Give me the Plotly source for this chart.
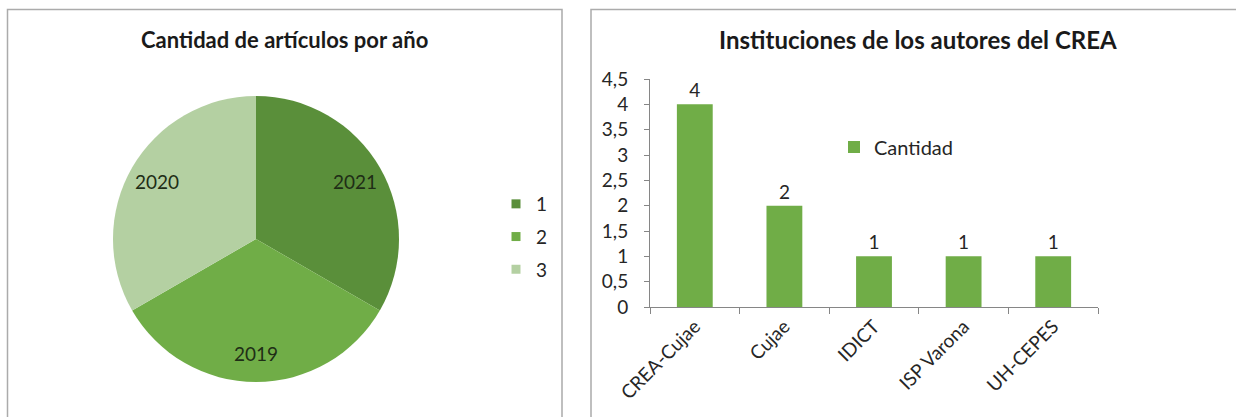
import plotly.graph_objects as go

# ---- data ----
pie_labels = ["1", "2", "3"]
pie_years = ["2021", "2019", "2020"]
pie_values = [1, 1, 1]
pie_colors = ["#5a8f3a", "#70ad47", "#b4d0a2"]

bar_categories = ["CREA-Cujae", "Cujae", "IDICT", "ISP Varona", "UH-CEPES"]
bar_values = [4, 2, 1, 1, 1]
bar_name = "Cantidad"
bar_color = "#70ad47"

title_left = "Cantidad de artículos por año"
title_right = "Instituciones de los autores del CREA"

W, H = 1236, 417
FONT = "Lato"
AXIS_COLOR = "#868686"
TEXT_COLOR = "#262626"

def px_x(x):
    return x / W

def px_y(y):
    return (H - y) / H

fig = go.Figure()

# Pie chart (filled slices)
cx, cy, r = 256, 239, 143
pie_domain = dict(x=[px_x(cx - r), px_x(cx + r)], y=[px_y(cy + r), px_y(cy - r)])
fig.add_trace(go.Pie(
    labels=pie_labels,
    values=pie_values,
    textinfo="none",
    marker=dict(colors=pie_colors, line=dict(width=0)),
    sort=False,
    direction="clockwise",
    rotation=0,
    showlegend=False,
    hoverinfo="label+value",
    domain=pie_domain,
))
# Same pie as a transparent ring, so the year labels sit near the rim
fig.add_trace(go.Pie(
    labels=pie_labels,
    values=pie_values,
    text=pie_years,
    textinfo="text",
    textposition="inside",
    insidetextorientation="horizontal",
    textfont=dict(family=FONT, size=19, color="#1f2d16"),
    hole=0.6,
    marker=dict(colors=["rgba(0,0,0,0)"] * len(pie_labels), line=dict(width=0)),
    sort=False,
    direction="clockwise",
    rotation=0,
    showlegend=False,
    hoverinfo="skip",
    domain=pie_domain,
))

# Legend entries for the pie (one per slice)
for lab, col in zip(pie_labels, pie_colors):
    fig.add_trace(go.Scatter(
        x=[None], y=[None], mode="markers", name=lab,
        marker=dict(symbol="square", size=9, color=col),
        legend="legend", legendgroup=lab, showlegend=True,
        hoverinfo="skip",
    ))

# Bar chart
fig.add_trace(go.Bar(
    x=bar_categories,
    y=bar_values,
    name=bar_name,
    marker=dict(color=bar_color, line=dict(width=0)),
    text=bar_values,
    texttemplate="%{y}",
    textposition="outside",
    textfont=dict(family=FONT, size=19, color=TEXT_COLOR),
    cliponaxis=False,
    showlegend=True,
    legend="legend2",
))

fig.update_layout(
    width=W, height=H,
    margin=dict(l=0, r=0, t=0, b=0, pad=0, autoexpand=False),
    paper_bgcolor="white",
    plot_bgcolor="white",
    separators=",.",
    font=dict(family=FONT, size=18, color=TEXT_COLOR),
    bargap=0.6,
    xaxis=dict(
        domain=[px_x(650), px_x(1098)],
        type="category",
        tickangle=-45,
        showline=True, linecolor=AXIS_COLOR, linewidth=1,
        ticks="outside", tickcolor=AXIS_COLOR, ticklen=6,
        tickson="boundaries",
        showgrid=False, zeroline=False,
        tickfont=dict(family=FONT, size=19, color=TEXT_COLOR),
        automargin=False,
        fixedrange=True,
    ),
    yaxis=dict(
        domain=[px_y(307), px_y(79)],
        range=[0, 4.5],
        dtick=0.5, tick0=0,
        showline=True, linecolor=AXIS_COLOR, linewidth=1,
        ticks="outside", tickcolor=AXIS_COLOR, ticklen=5,
        ticklabelstandoff=12,
        showgrid=False, zeroline=False,
        tickfont=dict(family=FONT, size=19, color=TEXT_COLOR),
        automargin=False,
        fixedrange=True,
    ),
    legend=dict(
        x=px_x(496), y=px_y(185), xanchor="left", yanchor="top",
        font=dict(family=FONT, size=19, color=TEXT_COLOR),
        tracegroupgap=5, bgcolor="rgba(0,0,0,0)",
        itemwidth=30,
    ),
    legend2=dict(
        x=px_x(834), y=px_y(147), xanchor="left", yanchor="middle",
        font=dict(family=FONT, size=20, color=TEXT_COLOR),
        bgcolor="rgba(0,0,0,0)",
        itemwidth=30,
    ),
    annotations=[
        dict(text="<b>" + title_left + "</b>", xref="paper", yref="paper",
             x=px_x(284), y=px_y(40), xanchor="center", yanchor="middle",
             showarrow=False, font=dict(family=FONT, size=22, color="#1a1a1a")),
        dict(text="<b>" + title_right + "</b>", xref="paper", yref="paper",
             x=px_x(918), y=px_y(40), xanchor="center", yanchor="middle",
             showarrow=False, font=dict(family=FONT, size=24, color="#1a1a1a")),
    ],
    shapes=[
        dict(type="rect", xref="paper", yref="paper",
             x0=px_x(7.5), x1=px_x(562), y0=px_y(430), y1=px_y(9.5),
             line=dict(color="#ababab", width=1.5), layer="below"),
        dict(type="rect", xref="paper", yref="paper",
             x0=px_x(591), x1=px_x(1250), y0=px_y(430), y1=px_y(9.5),
             line=dict(color="#ababab", width=1.5), layer="below"),
    ],
)

fig.write_html(
    "out.html",
    config={"displayModeBar": False},
    post_script="document.body.style.margin='0';document.body.style.overflow='hidden';",
)
